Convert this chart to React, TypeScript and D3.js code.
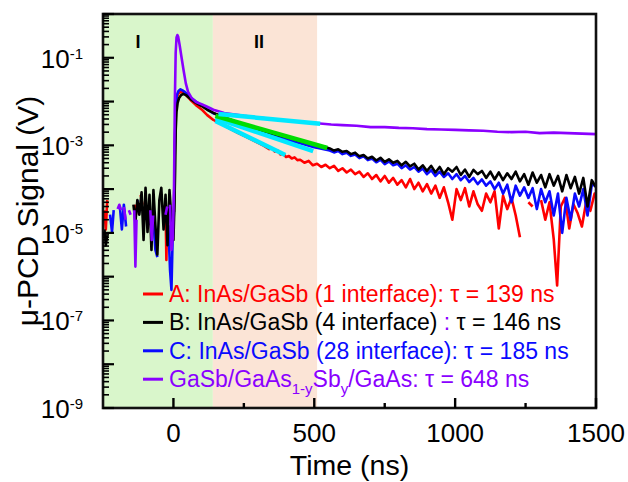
import React, { useEffect, useRef } from "react";
import * as d3 from "d3";

type Pt = [number, number | null];

// A: InAs/GaSb (1 interface)
const seriesA: Pt[] = [
  [-245, 3.3e-5], [-240, 1.2e-5], [-235, 5.6e-5], [-230, null],
  [-138, 4.4e-5], [-132, 2.6e-5], [-128, null],
  [-116, 7.4e-5], [-110, 4.4e-5], [-106, null],
  [-28, 4.4e-5], [-25, 2.4e-6], [-22, 3.3e-5], [-18, null],
  [2, 3.0e-5], [5, 1.0e-3], [8, 6.0e-3], [12, 1.25e-2], [18, 1.55e-2], [25, 1.65e-2],
  [32, 1.62e-2], [40, 1.5e-2], [50, 1.3e-2], [60, 1.1e-2], [80, 8.3e-3], [100, 6.6e-3],
  [120, 4.9e-3], [142, 3.8e-3], [170, 3.1e-3], [200, 2.4e-3], [230, 1.9e-3], [260, 1.55e-3],
  [290, 1.23e-3], [320, 9.8e-4], [340, 8.2e-4], [350, 8.6e-4], [360, 7.2e-4], [370, 7.6e-4],
  [380, 6.2e-4], [390, 6.4e-4], [400, 5.4e-4], [410, 5.7e-4], [420, 5.0e-4], [430, 5.3e-4],
  [440, 4.6e-4], [450, 4.7e-4], [465, 4.0e-4], [480, 4.4e-4], [495, 3.5e-4], [510, 3.8e-4],
  [525, 3.2e-4], [540, 3.6e-4], [555, 3.0e-4], [570, 3.4e-4], [585, 2.6e-4], [600, 3.0e-4],
  [615, 2.4e-4], [630, 2.8e-4], [645, 2.2e-4], [660, 2.5e-4], [675, 1.9e-4], [690, 2.3e-4],
  [705, 1.7e-4], [720, 2.1e-4], [735, 1.5e-4], [750, 2.0e-4], [765, 1.4e-4], [780, 1.8e-4],
  [795, 1.26e-4], [810, 1.6e-4], [825, 1.1e-4], [840, 1.7e-4], [855, 1.0e-4], [870, 1.4e-4],
  [885, 8.9e-5], [900, 1.3e-4], [915, 7.9e-5], [930, 1.2e-4], [945, 6.3e-5], [960, 1.1e-4],
  [975, 5.0e-5], [990, 2.0e-5], [1005, 1.0e-4], [1020, 5.6e-5], [1035, 1.05e-4], [1050, 4.0e-5],
  [1065, 8.9e-5], [1080, 4.5e-5], [1095, 3.2e-5], [1110, 7.9e-5], [1125, 5.0e-5], [1140, 8.9e-5],
  [1155, 1.26e-5], [1170, 7.1e-5], [1185, 3.5e-5], [1200, 6.3e-5], [1215, 2.5e-5], [1230, 7.9e-6],
  [1245, null], [1260, 5.0e-5], [1275, 4.0e-5], [1290, null], [1305, 5.6e-5], [1320, 2.0e-5],
  [1335, 5.0e-5], [1350, 7.1e-6], [1362, 6.3e-7], [1375, 4.0e-5], [1390, 6.3e-5], [1405, 1.26e-5],
  [1420, 4.5e-5], [1435, 2.8e-5], [1450, 1.4e-5], [1465, 5.0e-5], [1480, 3.2e-5], [1495, 7.9e-5],
  [1500, 7.1e-5],
];

// B: InAs/GaSb (4 interface)
const seriesB: Pt[] = [
  [-245, 1.2e-5], [-240, 5.2e-6], [-235, 8.9e-6], [-230, null],
  [-142, 4.4e-5], [-135, 1.8e-5], [-128, 5.6e-5], [-121, 2.6e-5], [-113, 8.5e-5], [-106, 6.9e-6],
  [-99, 1.07e-4], [-92, 1.05e-5], [-85, 7.4e-5], [-78, 4.1e-6], [-71, 9.5e-5], [-64, 1.5e-5],
  [-57, 3.2e-6], [-50, 5.6e-5], [-43, 1.07e-4], [-35, 1.2e-5], [-28, 7.4e-5], [-21, 5.2e-6],
  [-14, 9.5e-5], [-7, 2.0e-5], [0, 6.9e-6], [4, 5.6e-5], [6, 2.7e-4], [8, 2.2e-3], [11, 5.8e-3],
  [15, 9.3e-3], [20, 1.2e-2], [27, 1.4e-2], [35, 1.5e-2], [45, 1.4e-2], [60, 1.15e-2],
  [80, 9.3e-3], [100, 7.9e-3], [120, 6.5e-3], [142, 5.5e-3], [180, 4.4e-3], [220, 3.5e-3],
  [260, 2.9e-3], [300, 2.3e-3], [340, 1.95e-3], [380, 1.66e-3], [400, 1.55e-3], [420, 1.45e-3],
  [440, 1.3e-3], [460, 1.2e-3], [480, 1.15e-3], [500, 1.05e-3], [520, 9.8e-4], [540, 9.1e-4],
  [555, 8.5e-4], [570, 7.6e-4], [585, 8.1e-4], [600, 7.1e-4], [615, 7.4e-4], [630, 6.3e-4],
  [645, 6.8e-4], [660, 5.6e-4], [675, 6.0e-4], [690, 5.0e-4], [705, 5.5e-4], [720, 4.5e-4],
  [735, 5.2e-4], [750, 4.2e-4], [765, 4.8e-4], [780, 4.0e-4], [795, 4.4e-4], [810, 3.5e-4],
  [825, 4.2e-4], [840, 3.3e-4], [855, 3.8e-4], [870, 2.8e-4], [885, 3.5e-4], [900, 2.6e-4],
  [915, 3.4e-4], [930, 2.4e-4], [945, 3.2e-4], [960, 2.2e-4], [975, 3.0e-4], [990, 2.5e-4],
  [1005, 3.2e-4], [1020, 2.1e-4], [1035, 2.8e-4], [1050, 1.9e-4], [1065, 2.75e-4], [1080, 2.2e-4],
  [1095, 2.6e-4], [1110, 1.8e-4], [1125, 2.5e-4], [1140, 1.66e-4], [1155, 2.4e-4], [1170, 1.6e-4],
  [1185, 2.3e-4], [1200, 1.7e-4], [1215, 2.5e-4], [1230, 1.5e-4], [1245, 2.2e-4], [1260, 1.26e-4],
  [1275, 2.4e-4], [1290, 1.4e-4], [1305, 2.1e-4], [1320, 1.1e-4], [1335, 2.2e-4], [1350, 1.2e-4],
  [1365, 2.0e-4], [1380, 8.9e-5], [1395, 2.1e-4], [1410, 1.05e-4], [1425, 1.9e-4], [1440, 7.9e-5],
  [1455, 1.8e-4], [1470, 4.0e-5], [1485, 1.6e-4], [1500, 1.1e-4],
];

// C: InAs/GaSb (28 interface)
const seriesC: Pt[] = [
  [-225, 2.6e-5], [-218, 1.05e-5], [-212, 3.3e-5], [-206, null],
  [-190, 3.9e-5], [-183, 1.2e-5], [-176, 4.4e-5], [-168, 1.4e-5], [-162, null],
  [-128, 5.6e-5], [-122, 2.8e-5], [-116, null],
  [-71, 2.0e-5], [-64, 4.1e-6], [-57, 2.8e-6], [-50, null],
  [-18, 1.5e-5], [-12, 1.4e-6], [-7, 5.0e-7], [-3, 6.9e-6], [2, 3.2e-5], [5, 1.0e-3],
  [8, 6.3e-3], [12, 1.4e-2], [18, 1.75e-2], [25, 1.9e-2], [32, 1.8e-2], [40, 1.66e-2],
  [60, 1.26e-2], [80, 1.0e-2], [100, 8.1e-3], [120, 6.6e-3], [142, 5.4e-3], [180, 4.3e-3],
  [220, 3.4e-3], [260, 2.75e-3], [300, 2.2e-3], [340, 1.8e-3], [380, 1.5e-3], [420, 1.26e-3],
  [460, 1.07e-3], [500, 9.1e-4], [530, 8.3e-4],
  [555, 7.6e-4], [570, 6.9e-4], [585, 7.4e-4], [600, 6.3e-4], [615, 6.8e-4], [630, 5.75e-4],
  [645, 6.2e-4], [660, 5.1e-4], [675, 5.6e-4], [690, 4.6e-4], [705, 5.0e-4], [720, 4.1e-4],
  [735, 4.7e-4], [750, 3.7e-4], [765, 4.3e-4], [780, 3.5e-4], [795, 3.8e-4], [810, 3.0e-4],
  [825, 3.5e-4], [840, 2.8e-4], [855, 3.2e-4], [870, 2.5e-4], [885, 2.95e-4], [900, 2.2e-4],
  [915, 2.7e-4], [930, 2.0e-4], [945, 2.5e-4], [960, 1.9e-4], [975, 2.3e-4], [990, 1.7e-4],
  [1005, 2.2e-4], [1020, 1.6e-4], [1035, 2.0e-4], [1050, 1.45e-4], [1065, 1.8e-4], [1080, 1.3e-4],
  [1095, 1.66e-4], [1110, 1.2e-4], [1125, 1.5e-4], [1140, 1.0e-4], [1155, 1.4e-4], [1170, 7.9e-5],
  [1185, 1.26e-4], [1200, 5.0e-5], [1215, 1.2e-4], [1230, 7.1e-5], [1245, 1.1e-4], [1260, 6.3e-5],
  [1275, 1.05e-4], [1290, 3.5e-5], [1305, 1.0e-4], [1320, 5.0e-5], [1335, 8.9e-5], [1350, 2.5e-5],
  [1365, 7.9e-5], [1380, 1.0e-5], [1395, 6.3e-5], [1410, 2.0e-5], [1425, 7.9e-5], [1440, 4.0e-5],
  [1455, 1.0e-4], [1470, 2.5e-5], [1485, 1.26e-4], [1500, 1.2e-4],
];

// GaSb/GaAs1-ySby/GaAs
const seriesD: Pt[] = [
  [-198, 3.5e-5], [-192, 4.4e-5], [-186, 3.3e-5], [-181, null],
  [-176, 3.9e-5], [-170, 2.0e-5], [-165, null],
  [-158, 3.3e-5], [-152, 2.6e-5], [-147, null],
  [-139, 3.3e-5], [-135, 1.7e-6], [-131, 2.0e-5], [-126, null],
  [-82, 3.3e-5], [-77, 6.9e-6], [-72, 2.5e-5], [-67, null],
  [-28, 2.6e-5], [-22, 4.0e-5], [-17, null],
  [-12, 4.4e-5], [-7, 4.1e-6], [-2, 7.9e-6], [2, 1.0e-4], [5, 1.0e-2], [8, 1.3e-1],
  [11, 2.9e-1], [14, 3.3e-1], [17, 3.0e-1], [22, 1.95e-1], [28, 1.1e-1], [36, 5.2e-2],
  [44, 2.6e-2], [52, 1.66e-2], [65, 1.2e-2], [80, 9.8e-3], [100, 8.7e-3], [120, 7.6e-3],
  [142, 6.5e-3], [180, 5.5e-3], [250, 4.7e-3], [350, 4.0e-3], [450, 3.4e-3], [510, 3.2e-3],
  [560, 3.0e-3], [600, 2.9e-3], [650, 2.8e-3], [700, 2.6e-3], [750, 2.6e-3], [800, 2.5e-3],
  [850, 2.45e-3], [900, 2.35e-3], [950, 2.3e-3], [1000, 2.25e-3], [1050, 2.2e-3], [1100, 2.15e-3],
  [1150, 2.05e-3], [1200, 2.0e-3], [1250, 2.05e-3], [1300, 1.9e-3], [1350, 1.95e-3], [1400, 1.9e-3],
  [1450, 1.85e-3], [1500, 1.8e-3],
];

// exponential fits in region II
const fitA: Pt[] = [[149, 3.6e-3], [397, 6.0e-4]];
const fitB: Pt[] = [[149, 4.7e-3], [546, 8.7e-4]];
const fitC: Pt[] = [[149, 4.2e-3], [496, 7.4e-4]];
const fitD: Pt[] = [[160, 5.2e-3], [521, 3.1e-3]];

const regionI = [-250, 140];
const regionII = [140, 510];

const xTicks = [0, 500, 1000, 1500];
const xMinorTicks = [250, 750, 1250];
const yLabelExps = [-1, -3, -5, -7, -9];

const RED = "#ff0000";
const BLACK = "#000000";
const BLUE = "#0a0aff";
const PURPLE = "#8a00ff";
const CYAN = "#00e8ff";
const GREEN = "#00dd00";

const W = 628;
const H = 482;
const M = { left: 103, right: 596, top: 14, bottom: 408 };

export default function App() {
  const ref = useRef<SVGSVGElement>(null);

  useEffect(() => {
    const svg = d3.select(ref.current);
    svg.selectAll("*").remove();

    const x = d3.scaleLinear().domain([-250, 1500]).range([M.left, M.right]);
    const y = d3.scaleLog().domain([1e-9, 1]).range([M.bottom, M.top]);

    svg
      .append("clipPath")
      .attr("id", "plot-clip")
      .append("rect")
      .attr("x", M.left)
      .attr("y", M.top)
      .attr("width", M.right - M.left)
      .attr("height", M.bottom - M.top);

    // shaded regions
    svg
      .append("rect")
      .attr("x", x(regionI[0]))
      .attr("y", M.top)
      .attr("width", x(regionI[1]) - x(regionI[0]))
      .attr("height", M.bottom - M.top)
      .attr("fill", "#d9f6cb");
    svg
      .append("rect")
      .attr("x", x(regionII[0]))
      .attr("y", M.top)
      .attr("width", x(regionII[1]) - x(regionII[0]))
      .attr("height", M.bottom - M.top)
      .attr("fill", "#fbe4d6");

    svg
      .append("text")
      .attr("x", 138)
      .attr("y", 48)
      .attr("text-anchor", "middle")
      .attr("font-size", 18)
      .attr("font-weight", "bold")
      .text("I");
    svg
      .append("text")
      .attr("x", 259)
      .attr("y", 48)
      .attr("text-anchor", "middle")
      .attr("font-size", 18)
      .attr("font-weight", "bold")
      .text("II");

    const line = d3
      .line<Pt>()
      .defined((d) => d[1] != null && (d[1] as number) > 0)
      .x((d) => x(d[0]))
      .y((d) => y(d[1] as number));

    const plot = svg.append("g").attr("clip-path", "url(#plot-clip)");

    const data: [Pt[], string, number][] = [
      [seriesA, RED, 2.6],
      [seriesC, BLUE, 2.6],
      [seriesB, BLACK, 2.6],
      [seriesD, PURPLE, 2.6],
      [fitC, CYAN, 4.5],
      [fitB, GREEN, 4.5],
      [fitA, CYAN, 4.5],
      [fitD, CYAN, 4.5],
    ];
    data.forEach(([d, c, w]) => {
      plot
        .append("path")
        .attr("d", line(d))
        .attr("fill", "none")
        .attr("stroke", c)
        .attr("stroke-width", w)
        .attr("stroke-linejoin", "round");
    });

    // frame
    svg
      .append("rect")
      .attr("x", M.left)
      .attr("y", M.top)
      .attr("width", M.right - M.left)
      .attr("height", M.bottom - M.top)
      .attr("fill", "none")
      .attr("stroke", "#111")
      .attr("stroke-width", 2.6);

    // x ticks (inward)
    xTicks.forEach((t) => {
      svg
        .append("line")
        .attr("x1", x(t))
        .attr("x2", x(t))
        .attr("y1", M.bottom)
        .attr("y2", M.bottom - 10)
        .attr("stroke", "#000")
        .attr("stroke-width", 2.4);
      svg
        .append("text")
        .attr("x", x(t))
        .attr("y", 442)
        .attr("text-anchor", "middle")
        .attr("font-size", 26)
        .text(String(t));
    });
    xMinorTicks.forEach((t) => {
      svg
        .append("line")
        .attr("x1", x(t))
        .attr("x2", x(t))
        .attr("y1", M.bottom)
        .attr("y2", M.bottom - 5)
        .attr("stroke", "#000")
        .attr("stroke-width", 2.4);
    });

    // y ticks
    for (let e = -9; e <= 0; e++) {
      const v = Math.pow(10, e);
      svg
        .append("line")
        .attr("x1", M.left)
        .attr("x2", M.left + 11)
        .attr("y1", y(v))
        .attr("y2", y(v))
        .attr("stroke", "#000")
        .attr("stroke-width", 2.2);
      if (e < 0) {
        for (let k = 2; k <= 9; k++) {
          svg
            .append("line")
            .attr("x1", M.left)
            .attr("x2", M.left + 6)
            .attr("y1", y(k * v))
            .attr("y2", y(k * v))
            .attr("stroke", "#000")
            .attr("stroke-width", 1.6);
        }
      }
    }
    yLabelExps.forEach((e) => {
      const t = svg
        .append("text")
        .attr("x", 83)
        .attr("y", y(Math.pow(10, e)) + 10)
        .attr("text-anchor", "end")
        .attr("font-size", 26);
      t.append("tspan").text("10");
      t.append("tspan").attr("dy", -9).attr("font-size", 15).text(String(e));
    });

    // axis titles
    svg
      .append("text")
      .attr("x", (M.left + M.right) / 2)
      .attr("y", 475)
      .attr("text-anchor", "middle")
      .attr("font-size", 28.5)
      .text("Time (ns)");
    svg
      .append("text")
      .attr("transform", `translate(38,${(M.top + M.bottom) / 2}) rotate(-90)`)
      .attr("text-anchor", "middle")
      .attr("font-size", 30)
      .text("\u03bc-PCD Signal (V)");

    // legend
    const rows: { color: string; parts: [string, string, string?][] }[] = [
      { color: RED, parts: [["A: InAs/GaSb (1 interface): \u03c4 = 139 ns", RED]] },
      {
        color: BLACK,
        parts: [
          ["B: InAs/GaSb (4 interface) ", BLACK],
          [":", PURPLE],
          [" \u03c4 = 146 ns", BLACK],
        ],
      },
      { color: BLUE, parts: [["C: InAs/GaSb (28 interface): \u03c4 = 185 ns", BLUE]] },
      {
        color: PURPLE,
        parts: [
          ["GaSb/GaAs", PURPLE],
          ["1-y", PURPLE, "sub"],
          ["Sb", PURPLE, "up"],
          ["y", PURPLE, "sub"],
          ["/GaAs: \u03c4 = 648 ns", PURPLE, "up"],
        ],
      },
    ];
    rows.forEach((r, i) => {
      const base = 302 + i * 28.4;
      svg
        .append("line")
        .attr("x1", 143)
        .attr("x2", 163)
        .attr("y1", base - 8)
        .attr("y2", base - 8)
        .attr("stroke", r.color)
        .attr("stroke-width", 3);
      const t = svg
        .append("text")
        .attr("x", 169)
        .attr("y", base)
        .attr("font-size", 23)
        .style("white-space", "pre");
      r.parts.forEach(([s, c, mode]) => {
        const sp = t.append("tspan").attr("fill", c).text(s);
        if (mode === "sub") sp.attr("dy", 7).attr("font-size", 15);
        if (mode === "up") sp.attr("dy", -7);
      });
    });
  }, []);

  return (
    <svg
      ref={ref}
      width={W}
      height={H}
      style={{
        position: "absolute",
        left: 0,
        top: 0,
        background: "#fff",
        fontFamily: "'Liberation Sans', Arial, sans-serif",
      }}
    />
  );
}
